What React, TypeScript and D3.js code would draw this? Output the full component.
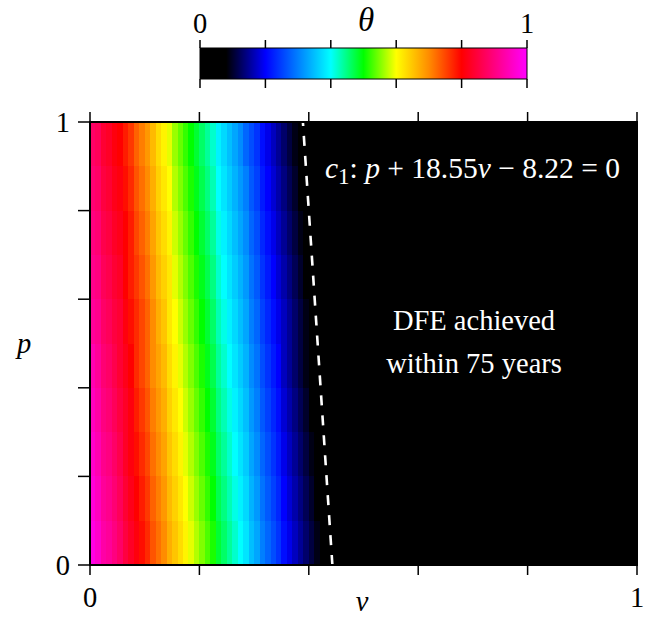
import React from "react";
import * as d3 from "d3";

// θ × 100 per cell, columns v = 0.00–0.01, 0.01–0.02, ... ; one array per p band (top band first).
// Cells past the last listed column are 0 (black).
const THETA_P90_100 = [88, 87, 84, 83, 81, 80, 78, 76, 73, 71, 69, 66, 63, 61, 59, 56, 54, 52, 50, 48, 46, 44, 42, 39, 37, 35, 33, 31, 28, 26, 24, 21, 19, 17, 15, 13, 11, 9, 7];
const THETA_P80_90 = [89, 88, 85, 84, 82, 81, 79, 77, 74, 72, 70, 67, 64, 62, 60, 57, 55, 53, 51, 49, 47, 45, 43, 40, 38, 36, 34, 32, 30, 27, 25, 22, 20, 18, 16, 14, 12, 10, 8, 6];
const THETA_P70_80 = [90, 89, 86, 85, 83, 82, 80, 78, 75, 73, 71, 68, 65, 63, 61, 58, 56, 54, 52, 50, 48, 46, 44, 41, 39, 37, 35, 33, 31, 28, 26, 23, 21, 19, 17, 15, 13, 11, 9, 7];
const THETA_P60_70 = [91, 90, 87, 86, 84, 83, 80, 78, 76, 74, 72, 69, 66, 64, 62, 59, 57, 55, 53, 51, 49, 47, 45, 42, 40, 38, 36, 34, 32, 29, 27, 24, 22, 20, 18, 16, 14, 12, 10, 8, 6];
const THETA_P50_60 = [92, 91, 88, 87, 85, 84, 81, 79, 77, 75, 73, 70, 67, 65, 62, 60, 58, 56, 54, 52, 50, 48, 46, 43, 41, 39, 37, 35, 33, 30, 28, 25, 23, 21, 19, 17, 15, 13, 11, 9, 7];
const THETA_P40_50 = [94, 92, 89, 88, 86, 84, 82, 80, 77, 75, 73, 70, 68, 66, 63, 61, 59, 57, 55, 53, 51, 49, 47, 44, 42, 40, 38, 36, 34, 31, 29, 26, 24, 22, 20, 17, 15, 13, 11, 9, 7, 6];
const THETA_P30_40 = [95, 93, 90, 89, 87, 85, 83, 81, 78, 76, 74, 71, 69, 67, 64, 62, 60, 58, 56, 54, 52, 50, 48, 45, 43, 41, 39, 37, 35, 32, 30, 27, 25, 23, 21, 18, 16, 14, 12, 10, 8, 7];
const THETA_P20_30 = [96, 94, 91, 90, 88, 86, 83, 81, 79, 77, 75, 72, 70, 68, 65, 63, 61, 59, 57, 55, 53, 51, 49, 46, 44, 42, 40, 38, 36, 33, 31, 28, 26, 24, 22, 19, 17, 15, 13, 11, 9, 7, 6];
const THETA_P10_20 = [97, 95, 92, 91, 89, 87, 84, 82, 80, 78, 76, 73, 71, 69, 66, 64, 62, 60, 58, 56, 54, 52, 50, 47, 45, 43, 41, 39, 37, 34, 32, 29, 27, 25, 23, 20, 18, 16, 14, 12, 10, 8, 6];
const THETA_P00_10 = [98, 96, 93, 92, 90, 88, 85, 83, 81, 79, 77, 74, 72, 70, 67, 65, 63, 61, 59, 57, 55, 53, 51, 48, 46, 44, 42, 40, 38, 35, 33, 30, 28, 26, 24, 21, 19, 17, 15, 13, 11, 9, 7, 6];

const BANDS = [
  { p0: 0.9, p1: 1.0, theta: THETA_P90_100 },
  { p0: 0.8, p1: 0.9, theta: THETA_P80_90 },
  { p0: 0.7, p1: 0.8, theta: THETA_P70_80 },
  { p0: 0.6, p1: 0.7, theta: THETA_P60_70 },
  { p0: 0.5, p1: 0.6, theta: THETA_P50_60 },
  { p0: 0.4, p1: 0.5, theta: THETA_P40_50 },
  { p0: 0.3, p1: 0.4, theta: THETA_P30_40 },
  { p0: 0.2, p1: 0.3, theta: THETA_P20_30 },
  { p0: 0.1, p1: 0.2, theta: THETA_P10_20 },
  { p0: 0.0, p1: 0.1, theta: THETA_P00_10 },
];

const V_STEP = 0.01;

// colour map for θ
const CMAP_STOPS = [0, 0.08, 0.2, 0.4, 0.5, 0.6, 0.7, 0.8, 1];
const CMAP_COLORS = ["#000000", "#000000", "#0000ff", "#00ffff", "#00ff00", "#ffff00", "#ff8c00", "#ff0000", "#ff00ff"];

const AXIS_TICKS = [0, 0.2, 0.4, 0.6, 0.8, 1];
const AXIS_LABELED = [0, 1];

// boundary c1: p + 18.55 v − 8.22 = 0
const C1_A = 18.55;
const C1_B = 8.22;

const FONT = "'Liberation Serif', 'Times New Roman', serif";

export default function App() {
  const W = 655;
  const H = 621;
  const plot = { x0: 90, x1: 637, y0: 122, y1: 565 };
  const bar = { x0: 200, x1: 527, y0: 48, y1: 79 };

  const x = d3.scaleLinear().domain([0, 1]).range([plot.x0, plot.x1]);
  const y = d3.scaleLinear().domain([0, 1]).range([plot.y1, plot.y0]);
  const color = d3
    .scaleLinear<string>()
    .domain(CMAP_STOPS)
    .range(CMAP_COLORS)
    .interpolate(d3.interpolateRgb);
  const xb = d3.scaleLinear().domain([0, 1]).range([bar.x0, bar.x1]);

  const vAt = (p: number) => (C1_B - p) / C1_A;
  const line = d3
    .line<number>()
    .x((p) => x(vAt(p)))
    .y((p) => y(p));

  const fs = 28.5;
  const fsEq = 29.5;

  return (
    <svg width={W} height={H} style={{ display: "block", position: "absolute", left: 0, top: 0 }}>
      <defs>
        <linearGradient id="cmap" x1="0" x2="1" y1="0" y2="0">
          {CMAP_STOPS.map((s, i) => (
            <stop key={i} offset={s} stopColor={CMAP_COLORS[i]} />
          ))}
        </linearGradient>
      </defs>
      <rect x={0} y={0} width={W} height={H} fill="#fff" />

      {/* colour bar */}
      <rect x={bar.x0} y={bar.y0} width={bar.x1 - bar.x0} height={bar.y1 - bar.y0} fill="url(#cmap)" stroke="#000" strokeWidth={1} />
      {AXIS_TICKS.map((t) => (
        <g key={"cb" + t} stroke="#000" strokeWidth={1.5}>
          <line x1={xb(t)} x2={xb(t)} y1={bar.y0 - 8} y2={bar.y0} />
          <line x1={xb(t)} x2={xb(t)} y1={bar.y1} y2={bar.y1 + 9} />
        </g>
      ))}
      {AXIS_LABELED.map((t) => (
        <text key={"cbl" + t} x={xb(t)} y={33} textAnchor="middle" fontFamily={FONT} fontSize={fs}>
          {t}
        </text>
      ))}
      <text x={366} y={31} textAnchor="middle" fontFamily={FONT} fontSize={33} fontStyle="italic">
        θ
      </text>

      {/* heat map */}
      <rect x={plot.x0} y={plot.y0} width={plot.x1 - plot.x0} height={plot.y1 - plot.y0} fill="#000" />
      <g shapeRendering="crispEdges">
        {BANDS.map((b, bi) =>
          b.theta.map((t, k) => (
            <rect
              key={bi + "-" + k}
              x={x(k * V_STEP)}
              y={y(b.p1)}
              width={x((k + 1) * V_STEP) - x(k * V_STEP) + 0.5}
              height={y(b.p0) - y(b.p1) + 0.5}
              fill={color(t / 100)}
            />
          ))
        )}
      </g>

      {/* boundary c1 */}
      <path d={line([0, 1]) || ""} stroke="#fff" strokeWidth={2.6} strokeDasharray="10 10" fill="none" />

      {/* frame and ticks */}
      <rect x={plot.x0} y={plot.y0} width={plot.x1 - plot.x0} height={plot.y1 - plot.y0} fill="none" stroke="#000" strokeWidth={2} />
      {AXIS_TICKS.map((t) => (
        <g key={"t" + t} stroke="#000" strokeWidth={1.5}>
          <line x1={x(t)} x2={x(t)} y1={plot.y1} y2={plot.y1 + 10} />
          <line x1={x(t)} x2={x(t)} y1={plot.y0} y2={plot.y0 - 10} />
          <line x1={plot.x0} x2={plot.x0 - 12} y1={y(t)} y2={y(t)} />
        </g>
      ))}
      {AXIS_LABELED.map((t) => (
        <text key={"xl" + t} x={x(t)} y={607} textAnchor="middle" fontFamily={FONT} fontSize={fs}>
          {t}
        </text>
      ))}
      {AXIS_LABELED.map((t) => (
        <text key={"yl" + t} x={70} y={y(t) + 10} textAnchor="end" fontFamily={FONT} fontSize={fs}>
          {t}
        </text>
      ))}
      <text x={362} y={611} textAnchor="middle" fontFamily={FONT} fontSize={fs} fontStyle="italic">
        v
      </text>
      <text x={24} y={353} textAnchor="middle" fontFamily={FONT} fontSize={fs} fontStyle="italic">
        p
      </text>

      {/* annotations */}
      <text x={325} y={178} fontFamily={FONT} fontSize={fsEq} fill="#fff">
        <tspan fontStyle="italic">c</tspan>
        <tspan fontSize={fsEq * 0.78} dy={6}>1</tspan>
        <tspan dy={-6}>: </tspan>
        <tspan fontStyle="italic">p</tspan>
        <tspan> + 18.55</tspan>
        <tspan fontStyle="italic">v</tspan>
        <tspan> − 8.22 = 0</tspan>
      </text>
      <text x={474} y={330} textAnchor="middle" fontFamily={FONT} fontSize={fs} fill="#fff">
        DFE achieved
      </text>
      <text x={474} y={373} textAnchor="middle" fontFamily={FONT} fontSize={fs} fill="#fff">
        within 75 years
      </text>
    </svg>
  );
}
